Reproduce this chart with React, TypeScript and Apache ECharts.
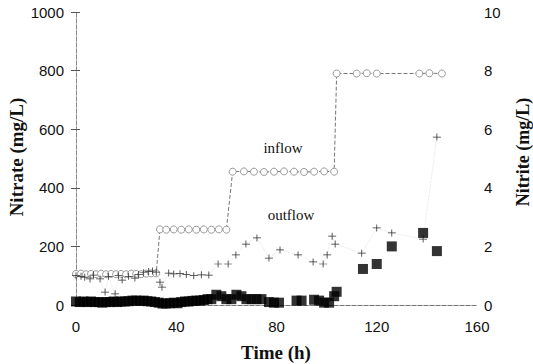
import React, { useEffect, useRef } from "react";
import * as echarts from "echarts";

// Inflow nitrate (mg/L), stepped feed concentration
const inflowTime = [0, 2, 4, 6, 8, 10, 12, 14, 16, 18, 20, 22, 24, 26, 28, 30, 32, 33.5, 36, 39, 42, 45, 48, 51, 54, 57, 60, 62.5, 67, 71, 75, 79, 83, 87, 91, 95, 99, 103, 104, 112, 116, 120, 137, 141, 146];
const inflowNitrate = [106, 107, 105, 106, 105, 107, 105, 106, 105, 106, 105, 107, 106, 105, 107, 108, 108, 258, 257, 258, 257, 258, 257, 258, 257, 258, 257, 455, 456, 455, 454, 455, 456, 455, 454, 455, 456, 455, 790, 790, 791, 790, 790, 791, 790];

// Outflow nitrate (mg/L)
const outflowTime = [0, 2, 3.5, 5.6, 7, 9.6, 11.6, 13, 15.6, 17, 18.4, 21, 23.5, 25, 27, 29, 30.5, 32, 33.5, 34.3, 37, 39, 41.5, 44, 47, 50, 53, 56.7, 60.7, 63.8, 67.8, 72.2, 77, 81.4, 88.6, 94.6, 98.6, 100.2, 102.2, 103.4, 114, 120, 126, 138.5, 144];
const outflowNitrate = [100, 98, 95, 89, 102, 89, 44, 98, 38, 100, 85, 98, 92, 104, 110, 114, 116, 112, 78, 61, 109, 106, 107, 104, 100, 103, 102, 140, 140, 171, 208, 229, 160, 188, 171, 147, 140, 171, 235, 208, 177, 263, 246, 225, 573];

// Outflow nitrite (mg/L)
const nitriteTime = [0, 1.5, 3, 4.5, 6, 7.5, 9, 10.5, 12, 13.5, 15, 16.5, 18, 19.5, 21, 22.5, 24, 25.5, 27, 28.5, 30, 31.5, 33, 34.5, 36, 37.5, 39, 40.5, 42, 43.5, 45, 46.5, 48, 49.5, 51, 52.5, 54, 56, 58, 60, 62, 64, 66, 68, 70, 72, 74, 77, 79, 81, 88, 90, 95, 97, 99, 101, 103, 104, 114.5, 120, 126, 138.5, 144];
const nitriteValue = [0.12, 0.1, 0.12, 0.1, 0.12, 0.1, 0.1, 0.08, 0.1, 0.1, 0.12, 0.1, 0.12, 0.12, 0.13, 0.15, 0.15, 0.14, 0.15, 0.13, 0.12, 0.1, 0.08, 0.05, 0.05, 0.06, 0.08, 0.06, 0.1, 0.12, 0.12, 0.14, 0.15, 0.15, 0.17, 0.2, 0.2, 0.35, 0.3, 0.2, 0.2, 0.35, 0.3, 0.2, 0.2, 0.2, 0.2, 0.1, 0.08, 0.08, 0.15, 0.15, 0.18, 0.15, 0.08, 0.08, 0.3, 0.45, 1.23, 1.4, 2.0, 2.46, 1.84];

const timeTicks = { min: 0, max: 160, interval: 40 };
const nitrateTicks = { min: 0, max: 1000, interval: 200 };
const nitriteTicks = { min: 0, max: 10, interval: 2 };

const pair = (xs: number[], ys: number[]) => xs.map((x, i) => [x, ys[i]]);

const PLUS = "path://M0,4.5H10V5.5H0Z M4.5,0H5.5V10H4.5Z";
const labelFont = { fontFamily: "Liberation Sans", fontSize: 15, color: "#111", formatter: (v: number) => String(v) };
const axisGray = { color: "#888", width: 1, type: "dashed" as const };

export default function App() {
  const ref = useRef<HTMLDivElement>(null);

  useEffect(() => {
    if (!ref.current) return;
    const chart = echarts.init(ref.current, null, { renderer: "svg" });
    chart.setOption({
      animation: false,
      backgroundColor: "#fff",
      grid: { left: 76, right: 56, top: 12, bottom: 59 },
      xAxis: [
        {
          type: "value",
          ...timeTicks,
          axisLine: { lineStyle: axisGray },
          axisTick: { show: false },
          axisLabel: { ...labelFont, margin: 14 },
          splitLine: { show: false },
        },
        {
          type: "value",
          position: "top",
          ...timeTicks,
          axisLine: { lineStyle: { color: "#777", width: 1, type: "dashed" } },
          axisTick: { show: false },
          axisLabel: { show: false },
          splitLine: { show: false },
        },
      ],
      yAxis: [
        {
          type: "value",
          ...nitrateTicks,
          axisLine: { show: true, lineStyle: axisGray },
          axisTick: { show: true, length: 5, lineStyle: { color: "#555" } },
          axisLabel: { ...labelFont, margin: 12 },
          splitLine: { show: false },
        },
        {
          type: "value",
          position: "right",
          ...nitriteTicks,
          axisLine: { show: true, lineStyle: axisGray },
          axisTick: { show: true, length: 4, lineStyle: { color: "#555" } },
          axisLabel: { ...labelFont, margin: 7 },
          splitLine: { show: false },
        },
      ],
      series: [
        {
          name: "inflow",
          type: "line",
          xAxisIndex: 0,
          yAxisIndex: 0,
          data: pair(inflowTime, inflowNitrate),
          symbol: "circle",
          symbolSize: 7,
          itemStyle: { color: "#fff", borderColor: "#999", borderWidth: 1 },
          lineStyle: { color: "#777", width: 1, type: "dashed" },
          z: 2,
        },
        {
          name: "outflow",
          type: "line",
          xAxisIndex: 0,
          yAxisIndex: 0,
          data: pair(outflowTime, outflowNitrate),
          symbol: PLUS,
          symbolSize: [8, 7],
          itemStyle: { color: "#333" },
          lineStyle: { color: "#d8d8d8", width: 0.7, type: "dotted" },
          z: 3,
        },
        {
          name: "nitrite",
          type: "scatter",
          xAxisIndex: 0,
          yAxisIndex: 1,
          data: pair(nitriteTime, nitriteValue),
          symbol: "rect",
          symbolSize: 10,
          itemStyle: { color: "#000" },
          z: 4,
        },
      ],
      graphic: [
        {
          type: "text",
          x: 283,
          y: 148,
          style: { text: "inflow", font: "15px 'Liberation Serif'", fill: "#111", align: "center", verticalAlign: "middle" },
        },
        {
          type: "text",
          x: 291,
          y: 215,
          style: { text: "outflow", font: "15px 'Liberation Serif'", fill: "#111", align: "center", verticalAlign: "middle" },
        },
        {
          type: "text",
          x: 16,
          y: 157,
          rotation: Math.PI / 2,
          style: { text: "Nitrate (mg/L)", font: "bold 19px 'Liberation Serif'", fill: "#111", align: "center", verticalAlign: "middle" },
        },
        {
          type: "text",
          x: 523,
          y: 152,
          rotation: Math.PI / 2,
          style: { text: "Nitrite (mg/L)", font: "bold 18px 'Liberation Serif'", fill: "#111", align: "center", verticalAlign: "middle" },
        },
        {
          type: "text",
          x: 276,
          y: 352,
          style: { text: "Time (h)", font: "bold 19px 'Liberation Serif'", fill: "#111", align: "center", verticalAlign: "middle" },
        },
      ],
    });
    return () => chart.dispose();
  }, []);

  return (
    <div
      ref={ref}
      style={{ position: "fixed", left: 0, top: 0, width: 533, height: 364, background: "#fff" }}
    />
  );
}
